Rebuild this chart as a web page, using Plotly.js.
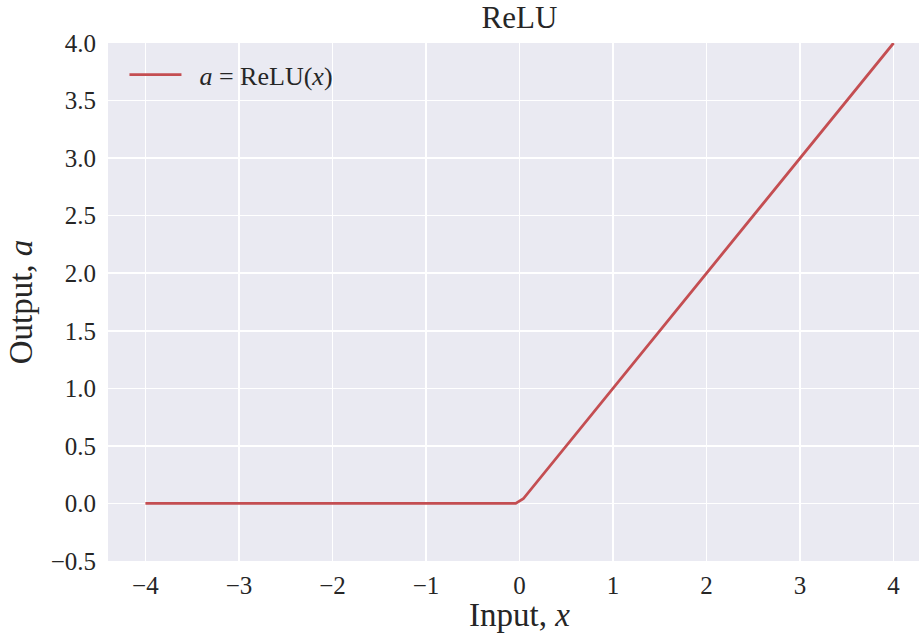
<!DOCTYPE html>
<html>
<head>
<meta charset="utf-8">
<script src="https://cdn.plot.ly/plotly-3.0.1.min.js"></script>
<style>
html, body { margin: 0; padding: 0; overflow: hidden; background: #ffffff; }
#chart { width: 931px; height: 633px; }
</style>
</head>
<body>
<div id="chart"></div>
<script>
const xValues = [-4, -0.0404, 0.0404, 4];
const yValues = [0, 0, 0.0404, 4];
const seriesName = '\u00a0\u00a0<i>a</i>\u00a0=\u00a0ReLU(<i>x</i>)';
const xTickVals = [-4, -3, -2, -1, 0, 1, 2, 3, 4];
const xTickText = ['\u22124', '\u22123', '\u22122', '\u22121', '0', '1', '2', '3', '4'];
const yTickVals = [-0.5, 0, 0.5, 1, 1.5, 2, 2.5, 3, 3.5, 4];
const yTickText = ['\u22120.5', '0.0', '0.5', '1.0', '1.5', '2.0', '2.5', '3.0', '3.5', '4.0'];

const serif = '"Liberation Serif", "DejaVu Serif", serif';
const textColor = '#262626';

const trace = {
  x: xValues,
  y: yValues,
  type: 'scatter',
  mode: 'lines',
  name: seriesName,
  line: { color: '#C44E52', width: 2.8 },
  hoverinfo: 'skip'
};

const layout = {
  width: 931,
  height: 633,
  margin: { l: 108, r: 0, t: 43, b: 72 },
  paper_bgcolor: '#ffffff',
  plot_bgcolor: '#EAEAF2',
  font: { family: serif, color: textColor, size: 25 },
  title: {
    text: 'ReLU',
    font: { family: serif, size: 31, color: textColor },
    x: 0.5, xref: 'paper', xanchor: 'center',
    y: 1, yref: 'container', yanchor: 'top', pad: { t: 6 }
  },
  showlegend: true,
  legend: {
    x: 0.02, xanchor: 'left',
    y: 0.984, yanchor: 'top',
    bgcolor: 'rgba(0,0,0,0)',
    borderwidth: 0,
    font: { family: serif, size: 26, color: textColor },
    itemwidth: 52
  },
  xaxis: {
    range: [-4.4, 4.4],
    tickmode: 'array', tickvals: xTickVals, ticktext: xTickText,
    showgrid: true, gridcolor: '#ffffff', gridwidth: 1.6,
    zeroline: false, showline: false,
    ticks: 'outside', ticklen: 2, tickcolor: 'rgba(0,0,0,0)',
    tickfont: { family: serif, size: 25, color: textColor },
    title: { text: 'Input, <i>x</i>', font: { family: serif, size: 33, color: textColor }, standoff: 6 },
    fixedrange: true
  },
  yaxis: {
    range: [-0.5, 4.0],
    tickmode: 'array', tickvals: yTickVals, ticktext: yTickText,
    showgrid: true, gridcolor: '#ffffff', gridwidth: 1.6,
    zeroline: false, showline: false,
    ticks: 'outside', ticklen: 6, tickcolor: 'rgba(0,0,0,0)',
    tickfont: { family: serif, size: 25, color: textColor },
    title: { text: 'Output, <i>a</i>', font: { family: serif, size: 33, color: textColor }, standoff: 8 },
    fixedrange: true
  }
};

Plotly.newPlot('chart', [trace], layout, { displayModeBar: false, staticPlot: true });
</script>
</body>
</html>
